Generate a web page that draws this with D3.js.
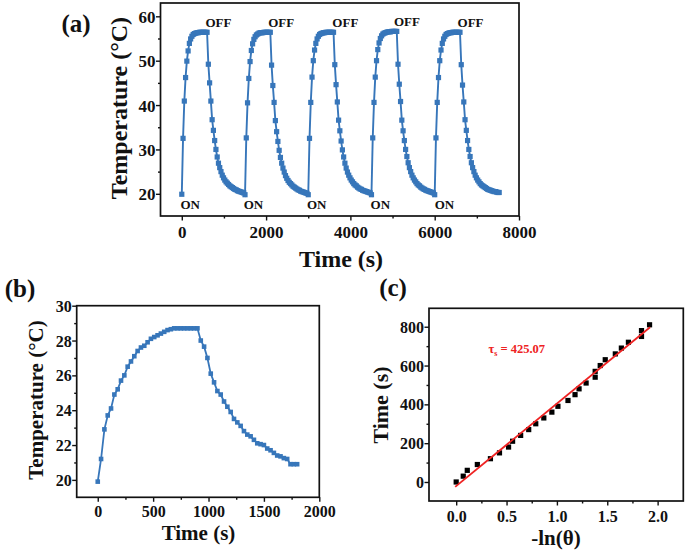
<!DOCTYPE html>
<html>
<head>
<meta charset="utf-8">
<script src="https://cdn.jsdelivr.net/npm/d3@7"></script>
<style>
  html, body { margin: 0; padding: 0; background: #ffffff; }
  svg text { font-family: "Liberation Serif", "Times New Roman", serif; font-weight: bold; fill: #111; }
</style>
</head>
<body>
<svg id="chart" width="685" height="553"></svg>
<script>
// ---------------- DATA ----------------
// Panel (a): five ON/OFF cycles, sampled every 30 s
const cycleStartTimes = [0, 1500, 3000, 4500, 6000];
const sampleInterval = 30;
const cycle1Temps = [19.9, 32.5, 40.9, 46.2, 49.9, 52.2, 53.9, 54.9, 55.5, 55.9, 56.1, 56.2, 56.3, 56.3, 56.4, 56.4, 56.4, 56.4, 56.4, 56.4, 56.4,
  49.2, 45.0, 40.9, 36.7, 34.3, 32.0, 30.0, 28.3, 26.9, 25.9, 25.0, 24.2, 23.6, 23.1, 22.7, 22.4, 22.1, 21.8, 21.6, 21.4, 21.2, 21.0, 20.9, 20.7, 20.6, 20.5, 20.4, 20.3, 20.2];
const cycle2Temps = [19.8, 32.6, 40.5, 46.0, 49.8, 52.3, 53.8, 54.8, 55.4, 55.8, 56.0, 56.2, 56.3, 56.3, 56.3, 56.4, 56.4, 56.4, 56.4, 56.4, 56.4,
  49.0, 44.4, 40.6, 36.5, 34.0, 31.8, 29.8, 28.2, 26.9, 25.8, 24.9, 24.1, 23.5, 23.0, 22.6, 22.3, 22.0, 21.7, 21.5, 21.3, 21.1, 20.9, 20.8, 20.6, 20.5, 20.4, 20.3, 20.2, 20.1];
const cycle3Temps = [19.8, 32.5, 40.6, 46.3, 50.0, 52.4, 53.9, 54.9, 55.5, 55.9, 56.1, 56.2, 56.3, 56.3, 56.4, 56.4, 56.4, 56.4, 56.4, 56.4, 56.4,
  49.1, 44.6, 40.7, 36.6, 34.2, 31.9, 29.9, 28.3, 26.9, 25.8, 24.9, 24.2, 23.6, 23.1, 22.7, 22.3, 22.0, 21.8, 21.5, 21.3, 21.1, 21.0, 20.8, 20.7, 20.6, 20.5, 20.4, 20.3, 20.2];
const cycle4Temps = [19.8, 32.6, 40.6, 46.3, 50.0, 52.5, 54.0, 55.0, 55.6, 56.0, 56.2, 56.3, 56.4, 56.5, 56.5, 56.5, 56.6, 56.6, 56.6, 56.6, 56.6,
  49.2, 44.7, 40.8, 36.6, 34.2, 32.0, 30.0, 28.4, 27.0, 25.9, 25.0, 24.2, 23.6, 23.1, 22.7, 22.3, 22.0, 21.8, 21.5, 21.3, 21.1, 21.0, 20.8, 20.7, 20.6, 20.5, 20.4, 20.3, 20.2];
const cycle5Temps = [19.8, 32.6, 40.6, 46.2, 50.0, 52.4, 53.9, 54.9, 55.5, 55.9, 56.1, 56.2, 56.3, 56.3, 56.4, 56.4, 56.4, 56.4, 56.4, 56.4, 56.4,
  49.1, 44.5, 40.7, 36.7, 34.3, 32.0, 30.0, 28.4, 27.0, 25.9, 25.0, 24.2, 23.6, 23.1, 22.7, 22.3, 22.0, 21.8, 21.6, 21.4, 21.2, 21.0, 20.9, 20.8, 20.7, 20.6, 20.5, 20.5, 20.4, 20.3, 20.3];
const onLabelTimes = [200, 1700, 3200, 4710, 6230];
const offLabelTimes = [870, 2360, 3880, 5340, 6850];
const onLabelTemp = 16.5;
const offLabelTemps = [57.5, 57.5, 57.5, 57.8, 57.5];
const aXTicks = [0, 2000, 4000, 6000, 8000];
const aXMinor = [1000, 3000, 5000, 7000];
const aYTicks = [20, 30, 40, 50, 60];
const aYMinor = [25, 35, 45, 55];

// Panel (b): single heating/cooling run, sampled every 30 s
const runTemps = [19.9, 21.2, 22.9, 23.7, 24.1, 24.9, 25.2, 25.7, 26.0, 26.5, 26.8, 27.1, 27.4, 27.6, 27.7, 27.9, 28.1, 28.2, 28.3, 28.4, 28.5, 28.6, 28.65, 28.7, 28.7, 28.7, 28.7, 28.7, 28.7, 28.7, 28.7,
  28.0, 27.65, 27.0, 26.1, 25.6, 25.1, 24.9, 24.5, 24.2, 23.9, 23.5, 23.3, 23.1, 22.8, 22.6, 22.5, 22.3, 22.1, 22.05, 22.0, 21.8, 21.7, 21.55, 21.4, 21.35, 21.25, 21.2, 20.9, 20.9, 20.9];
const bXTicks = [0, 500, 1000, 1500, 2000];
const bXMinor = [250, 750, 1250, 1750];
const bYTicks = [20, 22, 24, 26, 28, 30];
const bYMinor = [21, 23, 25, 27, 29];

// Panel (c): cooling time vs -ln(theta), with linear fit
const negLnTheta = [0.00, 0.07, 0.11, 0.21, 0.34, 0.43, 0.52, 0.56, 0.64, 0.72, 0.79, 0.87, 0.95, 1.01, 1.11, 1.18, 1.22, 1.29, 1.38, 1.38, 1.43, 1.48, 1.58, 1.64, 1.71, 1.84, 1.84, 1.92];
const coolTimes = [0, 30, 60, 90, 120, 150, 180, 210, 240, 270, 300, 330, 360, 390, 420, 450, 480, 510, 540, 570, 600, 630, 660, 690, 720, 750, 780, 810];
const fitSlope = 425.07;
const fitIntercept = -21;
const fitLabelPos = [0.32, 665];
const cXTicks = [0.0, 0.5, 1.0, 1.5, 2.0];
const cXMinor = [0.25, 0.75, 1.25, 1.75];
const cYTicks = [0, 200, 400, 600, 800];
const cYMinor = [100, 300, 500, 700];

// ---------------- DRAW ----------------
const svg = d3.select("#chart");
const BLUE = "#3776ba";
const RED = "#ee2222";
const SERIF = '"Liberation Serif", "Times New Roman", serif';

function drawFrame(x, y, o) {
  const g = svg.append("g");
  const [xl, xr] = x.range();
  const [yb, yt] = y.range();
  // minor ticks
  g.append("g").attr("transform", `translate(0,${yb})`)
    .call(d3.axisBottom(x).tickValues(o.xMinor).tickSize(2.5).tickFormat(""))
    .call(s => s.select(".domain").remove());
  g.append("g").attr("transform", `translate(${xl},0)`)
    .call(d3.axisLeft(y).tickValues(o.yMinor).tickSize(2.5).tickFormat(""))
    .call(s => s.select(".domain").remove());
  // major ticks
  const xa = g.append("g").attr("transform", `translate(0,${yb})`)
    .call(d3.axisBottom(x).tickValues(o.xTicks).tickSize(4.5).tickFormat(o.xFmt));
  xa.select(".domain").remove();
  xa.selectAll(".tick text").attr("y", o.xLabelOff).attr("dy", 0)
    .style("font-size", o.tickFont + "px");
  const ya = g.append("g").attr("transform", `translate(${xl},0)`)
    .call(d3.axisLeft(y).tickValues(o.yTicks).tickSize(4.5).tickFormat(o.yFmt));
  ya.select(".domain").remove();
  ya.selectAll(".tick text").attr("x", -o.yLabelGap).attr("dy", "0.35em")
    .style("font-size", o.tickFont + "px");
  g.selectAll("g").attr("font-family", SERIF);
  g.selectAll(".tick text").style("font-family", SERIF).style("font-weight", "bold");
  g.selectAll(".tick line").attr("stroke", "#111").attr("stroke-width", 1.4);
  g.selectAll(".tick text").attr("fill", "#111");
  // frame
  g.append("rect").attr("x", xl).attr("y", yt).attr("width", xr - xl).attr("height", yb - yt)
    .attr("fill", "none").attr("stroke", "#111").attr("stroke-width", 1.7);
  return g;
}

function addText(txt, x, y, size, opts = {}) {
  const t = svg.append("text").attr("x", x).attr("y", y)
    .attr("text-anchor", opts.anchor || "middle")
    .style("font-size", size + "px")
    .text(txt);
  if (opts.rotate) t.attr("transform", `rotate(-90,${x},${y})`);
  if (opts.fill) t.style("fill", opts.fill);
  return t;
}

// ----- Panel (a) -----
const cycles = [cycle1Temps, cycle2Temps, cycle3Temps, cycle4Temps, cycle5Temps];
const seriesA = [];
cycles.forEach((temps, ci) => temps.forEach((T, i) => seriesA.push({ t: cycleStartTimes[ci] + i * sampleInterval, T })));

const xA = d3.scaleLinear().domain([-505, 8000]).range([160.5, 519]);
const yA = d3.scaleLinear().domain([15, 63]).range([216, 3]);
drawFrame(xA, yA, { xTicks: aXTicks, xMinor: aXMinor, yTicks: aYTicks, yMinor: aYMinor,
  xFmt: d3.format("d"), yFmt: d3.format("d"), tickFont: 17, xLabelOff: 22, yLabelGap: 5 });

svg.append("path").datum(seriesA)
  .attr("d", d3.line().x(d => xA(d.t)).y(d => yA(d.T)))
  .attr("fill", "none").attr("stroke", BLUE).attr("stroke-width", 1.9);
svg.append("g").selectAll("rect").data(seriesA).join("rect")
  .attr("x", d => xA(d.t) - 2.6).attr("y", d => yA(d.T) - 2.6)
  .attr("width", 5.2).attr("height", 5.2).attr("fill", BLUE);

onLabelTimes.forEach(t => addText("ON", xA(t), yA(onLabelTemp), 13));
offLabelTimes.forEach((t, i) => addText("OFF", xA(t), yA(offLabelTemps[i]), 13));

addText("(a)", 76, 32, 25);
addText("Temperature (\u00B0C)", 127, 108, 24, { rotate: true });
addText("Time (s)", 341, 267, 24);

// ----- Panel (b) -----
const seriesB = runTemps.map((T, i) => ({ t: i * sampleInterval, T }));
const xB = d3.scaleLinear().domain([-190, 2000]).range([76.7, 319.3]);
const yB = d3.scaleLinear().domain([19, 30]).range([497.3, 305.7]);
drawFrame(xB, yB, { xTicks: bXTicks, xMinor: bXMinor, yTicks: bYTicks, yMinor: bYMinor,
  xFmt: d3.format("d"), yFmt: d3.format("d"), tickFont: 16, xLabelOff: 20, yLabelGap: 5 });

svg.append("path").datum(seriesB)
  .attr("d", d3.line().x(d => xB(d.t)).y(d => yB(d.T)))
  .attr("fill", "none").attr("stroke", BLUE).attr("stroke-width", 1.8);
svg.append("g").selectAll("rect").data(seriesB).join("rect")
  .attr("x", d => xB(d.t) - 2.3).attr("y", d => yB(d.T) - 2.3)
  .attr("width", 4.6).attr("height", 4.6).attr("fill", BLUE);

addText("(b)", 20, 297, 25);
addText("Temperature (\u00B0C)", 43, 400, 21, { rotate: true });
addText("Time (s)", 198.5, 540, 21);

// ----- Panel (c) -----
const seriesC = negLnTheta.map((v, i) => ({ x: v, t: coolTimes[i] }));
const xC = d3.scaleLinear().domain([-0.27, 2.255]).range([429, 683.3]);
const yC = d3.scaleLinear().domain([-98, 895]).range([501, 308.3]);
drawFrame(xC, yC, { xTicks: cXTicks, xMinor: cXMinor, yTicks: cYTicks, yMinor: cYMinor,
  xFmt: d3.format(".1f"), yFmt: d3.format("d"), tickFont: 16, xLabelOff: 20.5, yLabelGap: 5 });

const fitX = d3.extent(negLnTheta);
const fitLine = [fitX[0] - 0.01, fitX[1] + 0.005].map(v => ({ x: v, t: fitSlope * v + fitIntercept }));
svg.append("g").selectAll("rect").data(seriesC).join("rect")
  .attr("x", d => xC(d.x) - 2.6).attr("y", d => yC(d.t) - 2.6)
  .attr("width", 5.2).attr("height", 5.2).attr("fill", "#000");
svg.append("path").datum(fitLine)
  .attr("d", d3.line().x(d => xC(d.x)).y(d => yC(d.t)))
  .attr("fill", "none").attr("stroke", RED).attr("stroke-width", 1.8);

const fitLabel = svg.append("text")
  .attr("x", xC(fitLabelPos[0])).attr("y", yC(fitLabelPos[1]))
  .attr("text-anchor", "start").style("font-size", "12.5px").style("fill", RED);
fitLabel.append("tspan").text("\u03C4");
fitLabel.append("tspan").attr("dy", 3).style("font-size", "8px").text("s");
fitLabel.append("tspan").attr("dy", -3).text(" = " + fitSlope.toFixed(2));

addText("(c)", 393, 296, 25);
addText("Time (s)", 388, 405, 22, { rotate: true });
addText("-ln(\u03B8)", 556, 545, 21);
</script>
</body>
</html>
